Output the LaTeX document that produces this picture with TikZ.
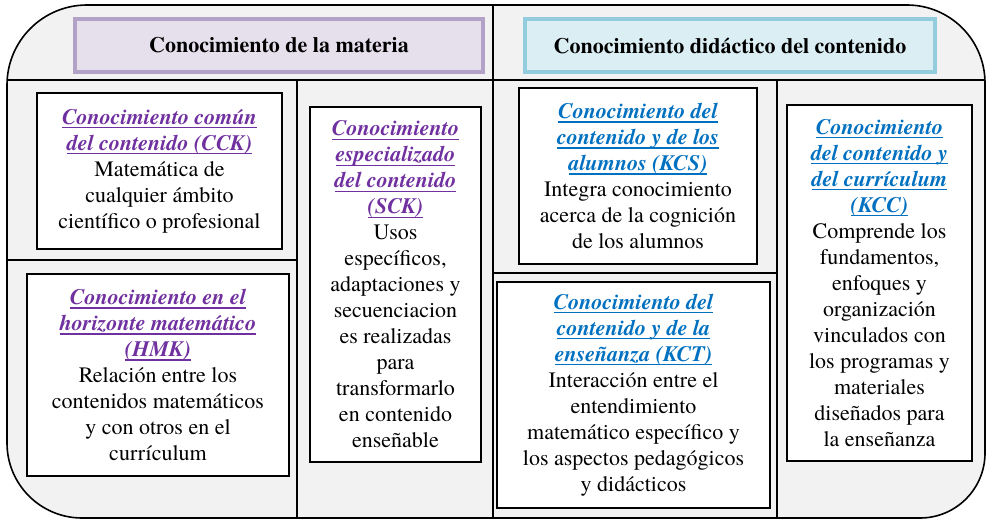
\documentclass[tikz,border=0pt]{standalone}
\usepackage{fontspec}
\setmainfont{texgyretermes}[Extension=.otf, UprightFont=*-regular, BoldFont=*-bold, ItalicFont=*-italic, BoldItalicFont=*-bolditalic]
\definecolor{purp}{HTML}{7030A0}
\definecolor{blu}{HTML}{0070C0}
\definecolor{panelgray}{HTML}{F2F2F2}
\definecolor{lavline}{HTML}{B3A2C7}
\definecolor{lavfill}{HTML}{E5E0EC}
\definecolor{aqline}{HTML}{93CDDD}
\definecolor{aqfill}{HTML}{DBEEF4}
\newcommand{\ttl}[2]{{\color{#1}\bfseries\itshape\setbox0\hbox{#2}\rlap{\rule[-4pt]{\wd0}{1.3pt}}\box0}}
\tikzset{
  panel/.style={draw=black, line width=1.6pt, fill=panelgray},
  divider/.style={draw=black, line width=1.4pt},
  card/.style={draw=black, line width=1.2pt, fill=white, align=center, inner sep=0pt,
    font=\fontsize{22}{26}\selectfont},
  header/.style={line width=4pt, align=center, inner sep=0pt,
    font=\fontsize{22}{26}\selectfont\bfseries},
}
\begin{document}
\begin{tikzpicture}[x=1pt,y=1pt]
\useasboundingbox (0,0) rectangle (986,-519);
% panels
\draw[panel] (493,-5) -- (87,-5) arc[start angle=90,end angle=180,radius=80pt]
  -- (7,-443) arc[start angle=180,end angle=270,radius=75pt] -- (493,-518) -- cycle;
\draw[panel] (493,-5) -- (907,-5) arc[start angle=90,end angle=0,radius=78pt]
  -- (985,-453) arc[start angle=0,end angle=-90,radius=65pt] -- (493,-518) -- cycle;
% dividers
\coordinate (mt) at (493,-5);
\coordinate (mb) at (493,-518);
\coordinate (hl) at (7,-80);
\coordinate (hr) at (985,-80);
\coordinate (v1t) at (297,-80);
\coordinate (v1b) at (297,-518);
\coordinate (h1l) at (7,-260);
\coordinate (h1r) at (297,-260);
\coordinate (v2t) at (777,-80);
\coordinate (v2b) at (777,-518);
\coordinate (h2l) at (493,-273);
\coordinate (h2r) at (777,-273);
\draw[divider] (hl) -- (hr);
\draw[divider] (v1t) -- (v1b);
\draw[divider] (h1l) -- (h1r);
\draw[divider] (v2t) -- (v2b);
\draw[divider] (h2l) -- (h2r);
\draw[divider, line width=2.6pt] (mt) -- (mb);
% headers
\node[header, draw=lavline, fill=lavfill, minimum width=408pt, minimum height=53pt]
  (hmat) at (279,-45.5) {Conocimiento de la materia};
\node[header, draw=aqline, fill=aqfill, minimum width=410pt, minimum height=53pt]
  (hdid) at (730,-45.5) {Conocimiento didáctico del contenido};
% cards
\node[card, minimum width=245pt, minimum height=156pt] (cck) at (159.5,-171)
  {\ttl{purp}{Conocimiento común}\\ \ttl{purp}{del contenido (CCK)}\\
   Matemática de\\ cualquier ámbito\\ científico o profesional};
\node[card, minimum width=171pt, minimum height=355pt] (sck) at (395.5,-284.5)
  {\ttl{purp}{Conocimiento}\\ \ttl{purp}{especializado}\\ \ttl{purp}{del contenido}\\ \ttl{purp}{(SCK)}\\
   Usos\\ específicos,\\ adaptaciones y\\ secuenciacion\\ es realizadas\\ para\\ transformarlo\\ en contenido\\ enseñable};
\node[card, minimum width=262pt, minimum height=202pt] (hmk) at (158,-375)
  {\ttl{purp}{Conocimiento en el}\\ \ttl{purp}{horizonte matemático}\\ \ttl{purp}{(HMK)}\\
   Relación entre los\\ contenidos matemáticos\\ y con otros en el\\ currículum};
\node[card, minimum width=238pt, minimum height=176pt] (kcs) at (638,-176)
  {\ttl{blu}{Conocimiento del}\\ \ttl{blu}{contenido y de los}\\ \ttl{blu}{alumnos (KCS)}\\
   Integra conocimiento\\ acerca de la cognición\\ de los alumnos};
\node[card, minimum width=185pt, minimum height=356pt] (kcc) at (879.5,-283)
  {\ttl{blu}{Conocimiento}\\ \ttl{blu}{del contenido y}\\ \ttl{blu}{del currículum}\\ \ttl{blu}{(KCC)}\\
   Comprende los\\ fundamentos,\\ enfoques y\\ organización\\ vinculados con\\ los programas y\\ materiales\\ diseñados para\\ la enseñanza};
\node[card, minimum width=273pt, minimum height=226pt] (kct) at (633.5,-395)
  {\ttl{blu}{Conocimiento del}\\ \ttl{blu}{contenido y de la}\\ \ttl{blu}{enseñanza (KCT)}\\
   Interacción entre el\\ entendimiento\\ matemático específico y\\ los aspectos pedagógicos\\ y didácticos};
\end{tikzpicture}
\end{document}
